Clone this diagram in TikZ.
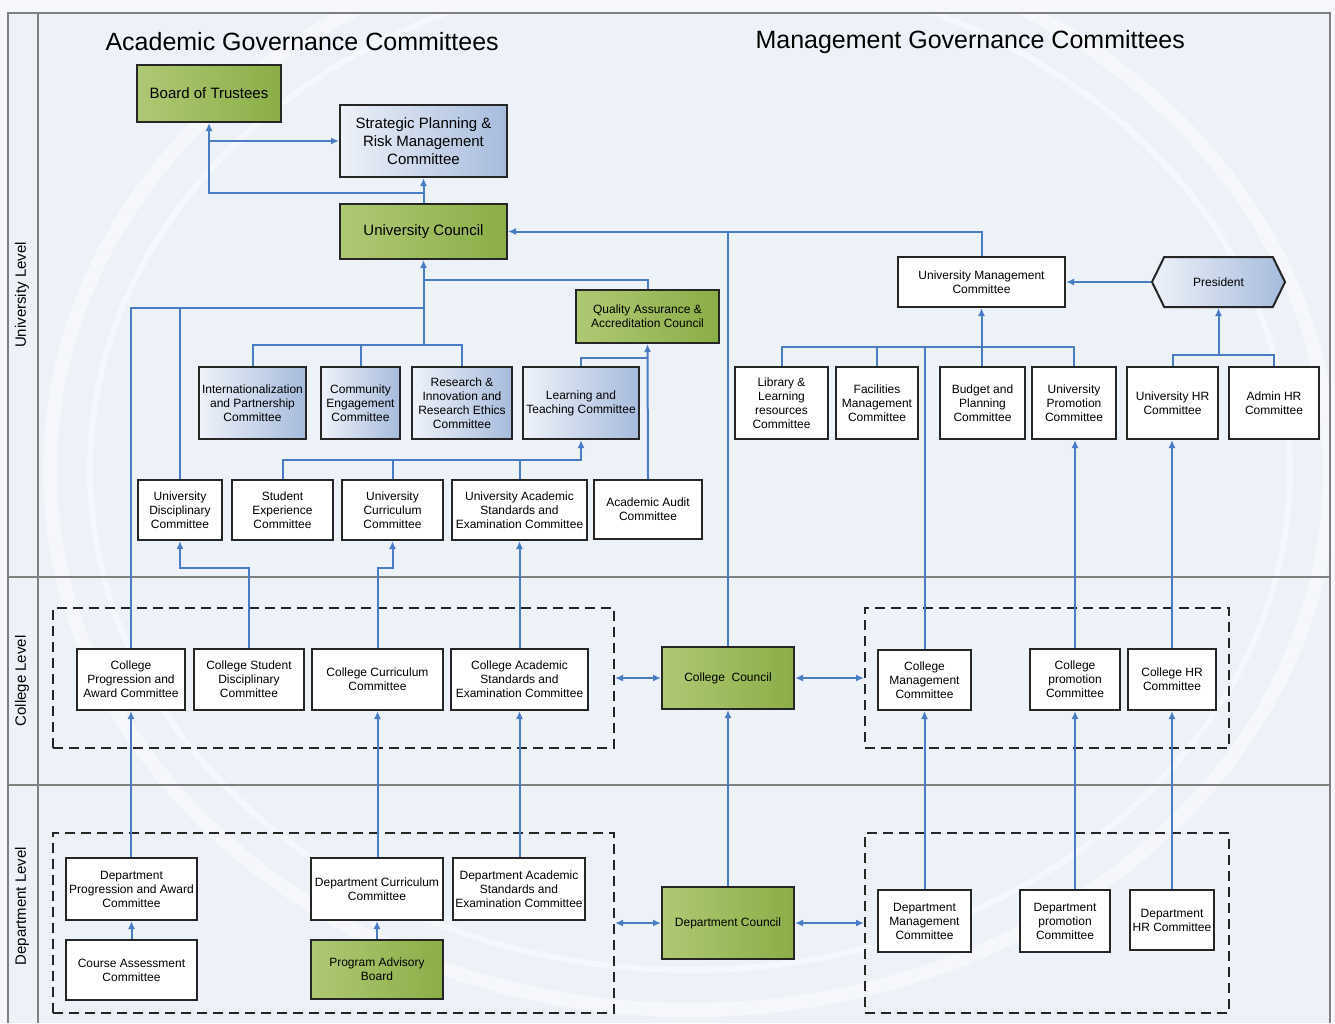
\documentclass[tikz,border=0pt]{standalone}
\usepackage{fontspec}
\setmainfont{Liberation Sans}
\usepackage{tikz}
\usetikzlibrary{positioning}
\usetikzlibrary{arrows.meta}
\usetikzlibrary{shapes.symbols}
\definecolor{linkblue}{HTML}{4A7CC6}
\definecolor{paneblue}{HTML}{EDF2F9}
\definecolor{greenL}{HTML}{AFC974}
\definecolor{greenR}{HTML}{8AAE47}
\definecolor{blueL}{HTML}{EEF2F9}
\definecolor{blueR}{HTML}{A6BBDC}
\definecolor{laneline}{HTML}{7F7F7F}

\begin{document}
\begin{tikzpicture}[x=1pt, y=-1pt,
		box/.style={draw=black!85, line width=2pt, fill=white, align=center, inner sep=2pt,
			font=\fontsize{12}{14}\selectfont},
		greenbox/.style={box, left color=greenL, right color=greenR},
		bluebox/.style={box, shading angle=-45, left color=blueL, right color=blueR},
		bigtext/.style={font=\fontsize{15}{18}\selectfont},
		grpbox/.style={draw=black!85, line width=2pt, dash pattern=on 10pt off 6pt},
		link/.style={draw=linkblue, line width=2pt},
		>={Latex[length=8pt,width=7pt]},
		lanelabel/.style={rotate=90, font=\fontsize{15}{18}\selectfont},
		title/.style={font=\fontsize{25}{30}\selectfont, anchor=west}]
		\useasboundingbox (0,0) rectangle (1335,1023);
		
		% background and swimlanes
		\fill[blueL!60] (0,0) rectangle (1335,1023);
		\fill[paneblue] (8,13) rectangle (1330,1023);
		\begin{scope}
		\clip (8,13) rectangle (1330,1023);
		\draw[white, line width=14pt, opacity=.45] (690,470) ellipse [x radius=640pt, y radius=540pt];
		\draw[white, line width=6pt, opacity=.4] (690,470) ellipse [x radius=600pt, y radius=500pt];
		\end{scope}
		\draw[laneline, line width=1.5pt] (8,1023) -- (8,13) -- (1330,13) -- (1330,1023);
		\draw[laneline, line width=1.2pt] (38,13) -- (38,1023);
		\draw[laneline, line width=1.2pt] (8,577) -- (1330,577);
		\draw[laneline, line width=1.2pt] (8,785) -- (1330,785);
		\node at (22,295) [lanelabel] (laneuniv) {University Level};
		\node at (22,681) [lanelabel] (lanecoll) {College Level};
		\node at (22,906) [lanelabel] (lanedept) {Department Level};
		
		\node at (102,42) [title] (acadtitle) {Academic Governance Committees};
		\node at (752,42) [title] (mgmttitle) {Management Governance Committees};
		
		% university level, academic side
		\node at (209,93.5) [greenbox, bigtext, minimum width=144, minimum height=57] (board) {Board of Trustees};
		\node at (423.5,141) [bluebox, bigtext, minimum width=167, minimum height=72] (strat) {Strategic Planning \&\\Risk Management\\Committee};
		\node at (423.5,231.5) [greenbox, bigtext, minimum width=167, minimum height=55] (ucouncil) {University Council};
		\node at (647.5,316.5) [greenbox, minimum width=143, minimum height=53] (qaac) {Quality Assurance \&\\Accreditation Council};
		
		\node at (252.5,403) [bluebox, minimum width=107, minimum height=72] (intl) {Internationalization\\and Partnership\\Committee};
		\node at (360.5,403) [bluebox, minimum width=79, minimum height=72] (comm) {Community\\Engagement\\Committee};
		\node at (462,403) [bluebox, minimum width=100, minimum height=72] (research) {Research \&\\Innovation and\\Research Ethics\\Committee};
		\node at (581,403) [bluebox, minimum width=116, minimum height=72] (lt) {Learning and\\Teaching Committee};
		
		\node at (180,510) [box, minimum width=84, minimum height=60] (udisc) {University\\Disciplinary\\Committee};
		\node at (282.5,510) [box, minimum width=101, minimum height=60] (stud) {Student\\Experience\\Committee};
		\node at (392.5,510) [box, minimum width=101, minimum height=60] (ucurr) {University\\Curriculum\\Committee};
		\node at (519.5,510) [box, minimum width=135, minimum height=60] (uacad) {University Academic\\Standards and\\Examination Committee};
		\node at (648,509.5) [box, minimum width=108, minimum height=59] (audit) {Academic Audit\\Committee};
		
		% university level, management side
		\node at (981.5,282) [box, minimum width=167, minimum height=50] (umc) {University Management\\Committee};
		\node at (1218.5,282) [box, bluebox, signal, signal to=east and west, signal pointer angle=128,
			minimum width=133, minimum height=50] (president) {President};
		
		\node at (781.5,403) [box, minimum width=93, minimum height=72] (lib) {Library \&\\Learning\\resources\\Committee};
		\node at (877,403) [box, minimum width=82, minimum height=72] (fac) {Facilities\\Management\\Committee};
		\node at (982.5,403) [box, minimum width=85, minimum height=72] (budget) {Budget and\\Planning\\Committee};
		\node at (1074,403) [box, minimum width=84, minimum height=72] (upromo) {University\\Promotion\\Committee};
		\node at (1172.5,403) [box, minimum width=91, minimum height=72] (uhr) {University HR\\Committee};
		\node at (1274,403) [box, minimum width=90, minimum height=72] (adminhr) {Admin HR\\Committee};
		
		% college level
		\node at (333.5,678) [grpbox, minimum width=561, minimum height=140] (cgroupL) {};
		\node at (1047,678) [grpbox, minimum width=364, minimum height=140] (cgroupR) {};
		\node at (131,679.5) [box, minimum width=108, minimum height=61] (cprog) {College\\Progression and\\Award Committee};
		\node at (249,679.5) [box, minimum width=110, minimum height=61] (cstud) {College Student\\Disciplinary\\Committee};
		\node at (377.5,679.5) [box, minimum width=131, minimum height=61] (ccurr) {College Curriculum\\Committee};
		\node at (519.5,679.5) [box, minimum width=137, minimum height=61] (cacad) {College Academic\\Standards and\\Examination Committee};
		\node at (728,678) [greenbox, minimum width=132, minimum height=62] (ccouncil) {College\ \ Council};
		\node at (924.5,680) [box, minimum width=93, minimum height=60] (cmgmt) {College\\Management\\Committee};
		\node at (1075,679.5) [box, minimum width=90, minimum height=61] (cpromo) {College\\promotion\\Committee};
		\node at (1172,679.5) [box, minimum width=88, minimum height=61] (chr) {College HR\\Committee};
		
		% department level
		\node at (333.5,923) [grpbox, minimum width=561, minimum height=180] (dgroupL) {};
		\node at (1047,923) [grpbox, minimum width=364, minimum height=180] (dgroupR) {};
		\node at (131.5,889) [box, minimum width=131, minimum height=62] (dprog) {Department\\Progression and Award\\Committee};
		\node at (131.5,970) [box, minimum width=131, minimum height=60] (course) {Course Assessment\\Committee};
		\node at (377,889) [box, minimum width=132, minimum height=62] (dcurr) {Department Curriculum\\Committee};
		\node at (519,889) [box, minimum width=132, minimum height=62] (dacad) {Department Academic\\Standards and\\Examination Committee};
		\node at (377,969.5) [greenbox, minimum width=132, minimum height=59] (pab) {Program Advisory\\Board};
		\node at (728,923) [greenbox, minimum width=132, minimum height=72] (dcouncil) {Department Council};
		\node at (924.5,921) [box, minimum width=93, minimum height=62] (dmgmt) {Department\\Management\\Committee};
		\node at (1065,921) [box, minimum width=90, minimum height=62] (dpromo) {Department\\promotion\\Committee};
		\node at (1172,920) [box, minimum width=84, minimum height=60] (dhr) {Department\\HR Committee};
		
		% bus lines
		\coordinate (busqa) at (0,280);
		\coordinate (buscol) at (0,308);
		\coordinate (busrow) at (0,345);
		\coordinate (busqb) at (0,358);
		\coordinate (busuni) at (0,460);
		\coordinate (busclg) at (0,568);
		\coordinate (busmg) at (0,347);
		\coordinate (bushr) at (0,355);
		
		% academic connectors
		\draw[link,->] (ucouncil.north) -- (strat.south);
		\draw[link,->] (ucouncil.north) -- ++(0,-10) -| (board.south);
		\draw[link,->] (board.south |- strat.west) -- (strat.west);
		\draw[link,->] (umc.north) |- (ucouncil.east);
		\draw[link] (ccouncil.north) -- (ccouncil.north |- ucouncil.east);
		\draw[link,->] (qaac.north) |- (ucouncil.south |- busqa) -- (ucouncil.south);
		\draw[link] (ucouncil.south |- busrow) -- (ucouncil.south |- busqa);
		\draw[link] (cprog.north) |- (ucouncil.south |- buscol);
		\draw[link] (udisc.north) -- (udisc.north |- buscol);
		\draw[link] (intl.north) |- (research.north |- busrow) -- (research.north);
		\draw[link] (comm.north) -- (comm.north |- busrow);
		\draw[link,->] (audit.north) -- (qaac.south);
		\draw[link] (lt.north) |- (qaac.south |- busqb);
		\draw[link,->] (stud.north) |- (lt.south |- busuni) -- (lt.south);
		\draw[link] (ucurr.north) -- (ucurr.north |- busuni);
		\draw[link] (uacad.north) -- (uacad.north |- busuni);
		\draw[link,->] (cstud.north) |- (udisc.south |- busclg) -- (udisc.south);
		\draw[link,->] (ccurr.north) |- (ucurr.south |- busclg) -- (ucurr.south);
		\draw[link,->] (cacad.north) -- (uacad.south);
		\draw[link,->] (cprog.south |- dprog.north) -- (cprog.south);
		\draw[link,->] (ccurr.south |- dcurr.north) -- (ccurr.south);
		\draw[link,->] (cacad.south |- dacad.north) -- (cacad.south);
		\draw[link,->] (course.north) -- (dprog.south);
		\draw[link,->] (pab.north) -- (dcurr.south);
		
		% councils
		\draw[link,<->] (cgroupL.east) -- (ccouncil.west);
		\draw[link,<->] (ccouncil.east) -- (cgroupR.west);
		\draw[link,<->] (dgroupL.east) -- (dcouncil.west);
		\draw[link,<->] (dcouncil.east) -- (dgroupR.west);
		\draw[link,->] (dcouncil.north) -- (ccouncil.south);
		
		% management connectors
		\draw[link] (lib.north) |- (upromo.north |- busmg) -- (upromo.north);
		\draw[link] (fac.north) -- (fac.north |- busmg);
		\draw[link,->] (umc.south |- budget.north) -- (umc.south);
		\draw[link] (cmgmt.north) -- (cmgmt.north |- busmg);
		\draw[link,->] (president.west) -- (umc.east);
		\draw[link] (uhr.north) |- (adminhr.north |- bushr) -- (adminhr.north);
		\draw[link,->] (president.south |- bushr) -- (president.south);
		\draw[link,->] (cpromo.north) -- (cpromo.north |- upromo.south);
		\draw[link,->] (chr.north) -- (chr.north |- uhr.south);
		\draw[link,->] (dmgmt.north) -- (cmgmt.south);
		\draw[link,->] (cpromo.south |- dpromo.north) -- (cpromo.south);
		\draw[link,->] (dhr.north) -- (chr.south);
		
\end{tikzpicture}
\end{document}
